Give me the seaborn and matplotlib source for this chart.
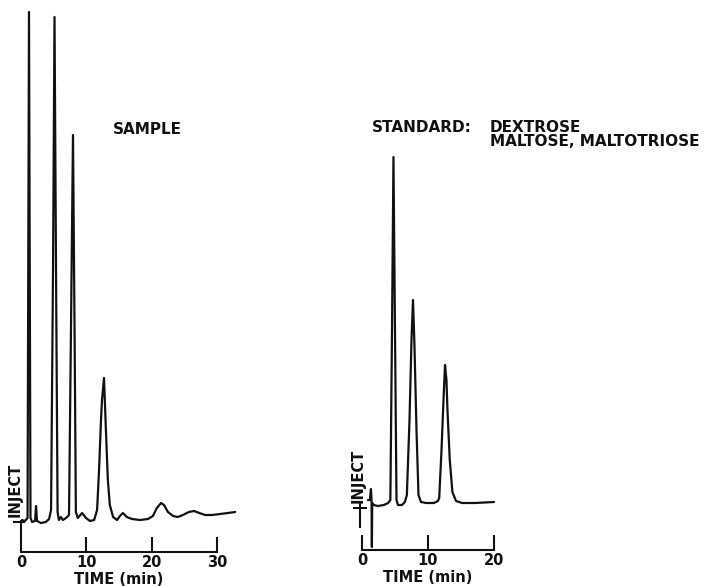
import matplotlib.pyplot as plt
import seaborn as sns
import pandas as pd

# Two chromatograms: time in minutes, detector signal
# in arbitrary units with the flat baseline at 0.
sample_time = [0.15, 0.6, 1.0, 1.22, 1.45, 1.7, 2.15, 2.3, 2.45, 3.05, 3.8, 4.3,
               4.6, 4.9, 5.13, 5.36, 5.6, 5.8, 6.1, 6.4, 6.9, 7.35, 7.65, 7.96,
               8.2, 8.4, 8.7, 9.35, 9.95, 10.55, 11.2, 11.65, 11.95, 12.25, 12.4,
               12.71, 13.0, 13.3, 13.6, 14.1, 14.7, 15.15, 15.6, 16.2, 17.0, 18.2,
               19.45, 20.2, 20.8, 21.45, 21.9, 22.5, 23.3, 24.0, 24.8, 25.7, 26.5,
               27.3, 28.2, 29.25, 30.5, 31.7, 32.8]
sample_signal = [0.0, -0.2, 0.4, 101.6, 0.4, -0.4, -0.2, 2.8, -0.2, -0.6, -0.4, 0.2,
                 2.0, 50.0, 100.6, 50.0, 1.6, 0.0, 0.6, 0.0, 0.4, 1.0, 38.0, 77.0,
                 38.0, 1.6, 0.4, 1.4, 0.4, -0.2, 0.0, 2.0, 10.0, 20.0, 24.0,
                 28.4, 18.0, 8.0, 3.0, 0.6, 0.0, 0.8, 1.4, 0.6, 0.2, 0.0,
                 0.2, 0.8, 2.4, 3.4, 3.0, 1.6, 0.8, 0.6, 1.0, 1.6, 1.8,
                 1.4, 1.0, 1.0, 1.2, 1.4, 1.6]

standard_time = [0.9, 1.2, 1.36, 1.45, 1.5, 1.55, 1.8, 2.4, 3.3, 3.95, 4.3, 4.55,
                 4.77, 5.0, 5.23, 5.45, 6.06, 6.5, 6.8, 7.2, 7.5, 7.73, 7.95, 8.26,
                 8.56, 8.94, 9.7, 10.9, 11.5, 11.7, 12.05, 12.35, 12.58, 12.8,
                 12.95, 13.3, 13.7, 14.25, 15.15, 17.1, 20.0]
standard_signal = [0.6, 0.6, 2.8, 0.6, -8.8, 0.0, -0.4, -0.6, -0.4, 0.0, 0.6, 34.6,
                   69.2, 34.6, 0.6, -0.4, -0.4, 0.2, 1.6, 16.6, 32.6, 40.6, 31.6, 14.6,
                   1.6, 0.2, 0.0, 0.0, 0.4, 1.0, 10.6, 20.6, 27.6, 24.6,
                   18.6, 8.6, 2.2, 0.4, 0.0, 0.0, 0.2]

sample_ticks = [0, 10, 20, 30]
standard_ticks = [0, 10, 20]
sample_title = "SAMPLE"
standard_title = "STANDARD:"
standard_names = ["DEXTROSE", "MALTOSE, MALTOTRIOSE"]
x_label = "TIME (min)"
inject_label = "INJECT"

W, H = 712, 586
INK = "#111111"

sns.set_theme(style="white")
plt.rcParams.update({
    "font.family": "DejaVu Sans",
    "font.weight": "bold",
    "axes.facecolor": "none",
})

fig = plt.figure(figsize=(W / 100, H / 100), dpi=100)


def px_box(x0, y_top, x1, y_bottom):
    """Axes rectangle from pixel edges (origin at top left)."""
    return [x0 / W, 1 - y_bottom / H, (x1 - x0) / W, (y_bottom - y_top) / H]


def style_time_axis(ax, ticks, xlim, ylim, label_x):
    ax.set_xlim(*xlim)
    ax.set_ylim(*ylim)
    for side in ["left", "right", "top"]:
        ax.spines[side].set_visible(False)
    ax.spines["bottom"].set_bounds(ticks[0], ticks[-1])
    ax.spines["bottom"].set_linewidth(1.5)
    ax.spines["bottom"].set_color(INK)
    ax.set_xticks(ticks)
    ax.set_xticklabels([str(t) for t in ticks])
    ax.set_yticks([])
    ax.tick_params(axis="x", direction="in", length=11, width=1.5, color=INK,
                   labelsize=10.5, labelcolor=INK, pad=2.5, bottom=True)
    ax.set_xlabel(x_label, fontsize=10.5, fontweight="bold", color=INK)
    ax.xaxis.set_label_coords(label_x, -0.036)
    ax.set_ylabel("")


def draw_trace(ax, time, signal):
    df = pd.DataFrame({"time": time, "signal": signal})
    sns.lineplot(data=df, x="time", y="signal", ax=ax, color=INK, linewidth=1.6,
                 sort=False, estimator=None)


def draw_inject(ax, t, bar_y, low_y, left, right, text_t, text_y):
    ax.vlines(t, low_y, 0, color=INK, linewidth=1.5)
    ax.hlines(bar_y, t - left, t + right, color=INK, linewidth=1.5)
    ax.text(text_t, text_y, inject_label, rotation=90, ha="center", va="bottom",
            fontsize=10.5, fontweight="bold", color=INK)


# Left panel: sample
ax1 = fig.add_axes(px_box(0, 0, 250, 552))
draw_trace(ax1, sample_time, sample_signal)
draw_inject(ax1, 0.0, -0.4, -3.4, 1.2, 0.6, -0.92, 0.6)
style_time_axis(ax1, sample_ticks, (-3.22, 35.07), (-6.4, 104), 0.476)

# Right panel: standard
ax2 = fig.add_axes(px_box(340, 0, 712, 550))
draw_trace(ax2, standard_time, standard_signal)
draw_inject(ax2, -0.3, -1.0, -5.0, 1.1, 1.1, -0.6, 0.0)
style_time_axis(ax2, standard_ticks, (-3.33, 53.03), (-9.4, 100.6), 0.2366)

# Panel captions
fig.text(113 / W, 1 - 133.5 / H, sample_title, fontsize=11, fontweight="bold",
         color=INK, va="baseline")
fig.text(372 / W, 1 - 132.5 / H, standard_title, fontsize=11, fontweight="bold",
         color=INK, va="baseline")
fig.text(490 / W, 1 - 146 / H, "\n".join(standard_names), fontsize=11,
         fontweight="bold", color=INK, va="baseline", linespacing=0.92)

fig.savefig("out.png", dpi=100, facecolor="white")
plt.close(fig)
